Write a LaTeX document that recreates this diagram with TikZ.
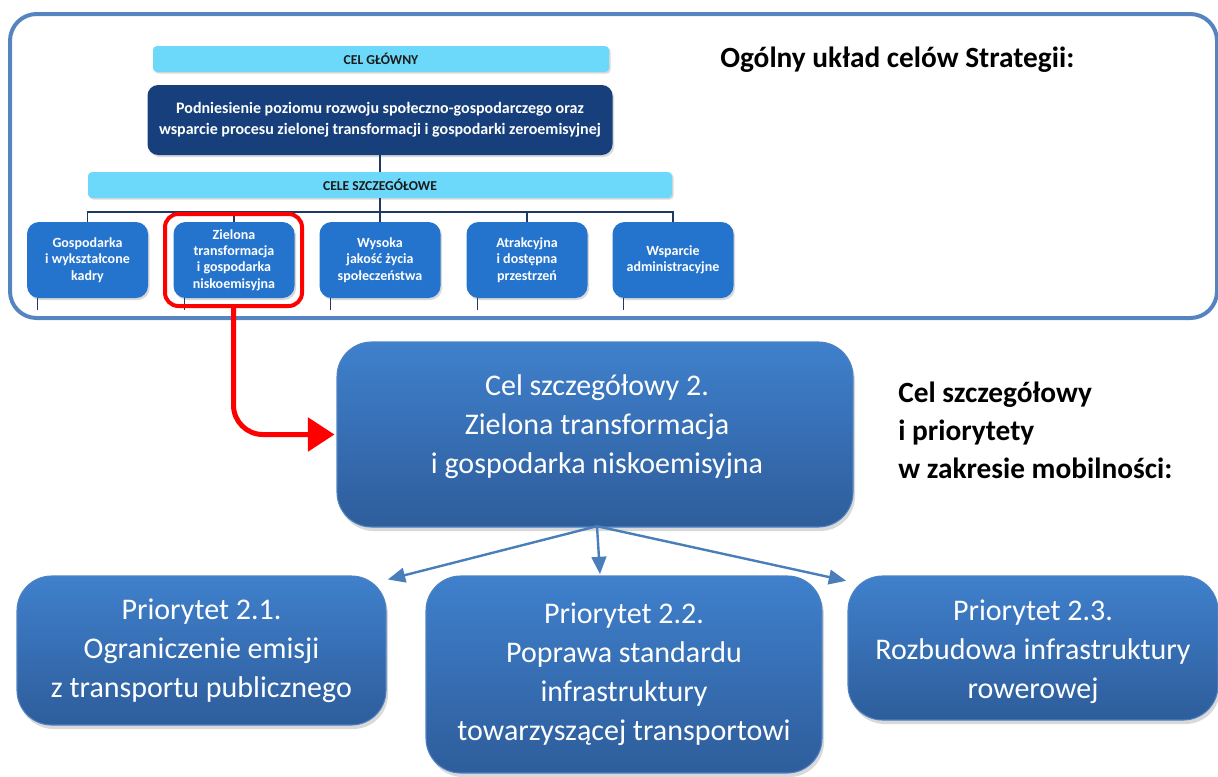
\documentclass[tikz,border=0pt]{standalone}
\usepackage{fontspec}
\setmainfont{Carlito}
\usetikzlibrary{arrows.meta,shadows}
\definecolor{framec}{HTML}{5584C0}
\definecolor{lbar}{HTML}{6CD8FA}
\definecolor{navy}{HTML}{163F7C}
\definecolor{midb}{HTML}{2474CE}
\definecolor{btop}{HTML}{3F80CC}
\definecolor{bbot}{HTML}{2E5D9B}
\definecolor{bedge}{HTML}{4F82C2}
\definecolor{arrb}{HTML}{4A7EBB}
\definecolor{hlred}{HTML}{FF0000}
\definecolor{txtd}{HTML}{1A1A1A}
\definecolor{linec}{HTML}{1F3864}
\begin{document}
\begin{tikzpicture}[x=0.75pt,y=-0.75pt,
  bar/.style={fill=lbar, rounded corners=3pt, inner sep=0pt, minimum height=19.5pt,
    drop shadow={opacity=0.3,shadow xshift=1.2pt,shadow yshift=-1.2pt},
    font=\bfseries\fontsize{10.2}{11}\selectfont, text=txtd},
  darkbox/.style={fill=navy, rounded corners=8pt, inner sep=0pt, minimum width=348.75pt, minimum height=52.5pt,
    drop shadow={opacity=0.3,shadow xshift=1.2pt,shadow yshift=-1.5pt},
    text=white, align=center, font=\bfseries\fontsize{12}{15.75}\selectfont},
  sbox/.style={fill=midb, rounded corners=9pt, inner sep=0pt, minimum width=90.75pt, minimum height=57pt,
    drop shadow={opacity=0.3,shadow xshift=1.2pt,shadow yshift=-1.5pt},
    text=white, align=center, font=\bfseries\fontsize{10.5}{12.2}\selectfont},
  conn/.style={draw=linec, line width=1.3pt},
  bigbox/.style={top color=btop, bottom color=bbot, draw=bedge, line width=0.8pt, rounded corners=26pt, inner sep=0pt,
    drop shadow={opacity=0.3,shadow xshift=1.5pt,shadow yshift=-3pt}},
  bigtext/.style={text=white, align=center, font=\fontsize{22.5}{29.25}\selectfont},
  barrow/.style={draw=arrb, line width=1.8pt, -{Triangle[length=13pt,width=11pt]}},
  heading/.style={text=black, font=\bfseries\fontsize{22}{28.5}\selectfont, align=left, inner sep=0pt}
]
\useasboundingbox (0,0) rectangle (1218,776);

% outer frame
\draw[framec, line width=3pt, rounded corners=20pt] (10,14) rectangle (1217,318);

% top chart
\node[bar, minimum width=342pt] (celg) at (381,59) {CEL GŁÓWNY};
\node[darkbox] (main) at (380,120) {Podniesienie poziomu rozwoju społeczno-gospodarczego oraz\\wsparcie procesu zielonej transformacji i gospodarki zeroemisyjnej};
\node[bar, minimum width=438pt] (celes) at (380,185) {CELE SZCZEGÓŁOWE};

\node[sbox] (b1) at (87.5,260) {Gospodarka\\i wykształcone\\kadry};
\node[sbox] (b2) at (234,260) {Zielona\\transformacja\\i gospodarka\\niskoemisyjna};
\node[sbox] (b3) at (380,260) {Wysoka\\jakość życia\\społeczeństwa};
\node[sbox] (b4) at (527,260) {Atrakcyjna\\i dostępna\\przestrzeń};
\node[sbox] (b5) at (673,260) {Wsparcie\\administracyjne};

\coordinate (bus) at (380,212);
\draw[conn] (main.south) -- (celes.north);
\draw[conn] (celes.south) -- (bus);
\draw[conn] (b1.north) |- (bus) -| (b5.north);
\draw[conn] (b2.north) -- (b2.north |- bus);
\draw[conn] (b3.north) -- (bus);
\draw[conn] (b4.north) -- (b4.north |- bus);

\foreach \b in {b1,b2,b3,b4,b5}{
  \coordinate (\b s) at ([xshift=8.25pt]\b.south west);
  \draw[conn, line width=1.1pt] (\b s) -- ++(0,12);
}

% highlight
\node[draw=hlred, line width=3pt, rounded corners=10pt, inner sep=0pt,
      minimum width=102.75pt, minimum height=69pt] (hl) at (233.5,260) {};

\node[heading, anchor=west] (t1) at (720,60) {Ogólny układ celów Strategii:};

% middle
\node[bigbox, minimum width=387pt, minimum height=138.75pt] (cel) at (595,434.5) {};
\node[bigtext] (celt) at (597,427) {Cel szczegółowy 2.\\Zielona transformacja\\i gospodarka niskoemisyjna};

\draw[hlred, line width=3.75pt, rounded corners=22pt, -{Triangle[length=20pt,width=25pt]}, shorten >=1.5pt]
  (hl.south) |- (cel.west);

\node[heading, anchor=west] (t2) at (898,430) {Cel szczegółowy\\i priorytety\\w zakresie mobilności:};

% priorities
\node[bigbox, minimum width=276.75pt, minimum height=111.75pt] (p1) at (201.5,650.5) {};
\node[bigtext] (p1t) at (p1.center) {Priorytet 2.1.\\Ograniczenie emisji\\z transportu publicznego};
\node[bigbox, minimum width=297pt, minimum height=147.75pt] (p2) at (624,674.5) {};
\node[bigtext] (p2t) at (p2.center) {Priorytet 2.2.\\Poprawa standardu\\infrastruktury\\towarzyszącej transportowi};
\node[bigbox, minimum width=277.5pt, minimum height=108pt] (p3) at (1033,648) {};
\node[bigtext] (p3t) at (1033,652) {Priorytet 2.3.\\Rozbudowa infrastruktury\\rowerowej};

\coordinate (o) at ([xshift=1.5pt,yshift=1pt]cel.south);
\draw[barrow] (o) -- ([xshift=1pt,yshift=-3pt]p1.north east);
\draw[barrow] (o) -- ([xshift=-18pt,yshift=1pt]p2.north);
\draw[barrow] (o) -- ([xshift=-1pt,yshift=-4pt]p3.north west);
\end{tikzpicture}
\end{document}
